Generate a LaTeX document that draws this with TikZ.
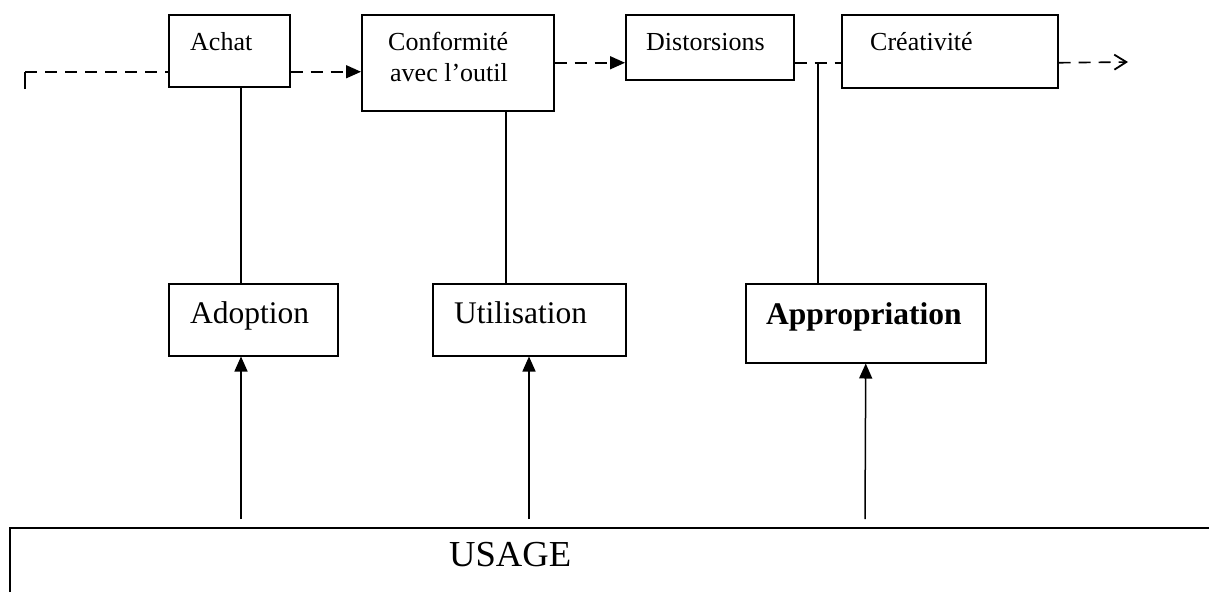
\documentclass[tikz,border=0pt]{standalone}
\usepackage{fontspec}
\setmainfont{Liberation Serif}
\usetikzlibrary{arrows.meta,calc}
\tikzset{
  box/.style={draw, line width=1.5pt, inner sep=0pt, anchor=north west},
  small/.style={anchor=base west, inner sep=0pt, font=\fontsize{26}{30}\selectfont},
  mid/.style={anchor=base west, inner sep=0pt, font=\fontsize{31.5}{36}\selectfont},
  big/.style={anchor=base west, inner sep=0pt, font=\fontsize{36.6}{42}\selectfont},
  flow/.style={line width=1.6pt, dash pattern=on 12pt off 8pt},
  solidtip/.style={-{Triangle[length=15pt,width=13pt]}},
  link/.style={line width=1.5pt},
}
\begin{document}
\begin{tikzpicture}[x=1pt,y=-1pt]
\useasboundingbox (0,0) rectangle (1209,592);
% top row boxes
\node[box, minimum width=121pt, minimum height=72pt] (achat) at (168,14) {};
\node[box, minimum width=192pt, minimum height=96pt] (conf) at (361,14) {};
\node[box, minimum width=168pt, minimum height=65pt] (dist) at (625,14) {};
\node[box, minimum width=216pt, minimum height=73pt] (crea) at (841,14) {};
\node[small] (tachat) at (190,50) {Achat};
\node[small] (tconf1) at (388,50) {Conformité};
\node[small] (tconf2) at (390,81) {avec l’outil};
\node[small] (tdist) at (646,50) {Distorsions};
\node[small] (tcrea) at (870,50) {Créativité};
% middle row boxes
\node[box, minimum width=169pt, minimum height=72pt] (adopt) at (168,283) {};
\node[box, minimum width=193pt, minimum height=72pt] (util) at (432,283) {};
\node[box, minimum width=240pt, minimum height=79pt] (approp) at (745,283) {};
\node[mid] (tadopt) at (190,323) {Adoption};
\node[mid] (tutil) at (454,323) {Utilisation};
\node[mid, font=\fontsize{31.5}{36}\selectfont\bfseries] (tapprop) at (766,324) {Appropriation};
% usage box (open)
\coordinate (usw) at (10,592);
\coordinate (usnw) at (10,528);
\coordinate (une) at (1209,528);
\draw[line width=2pt] (usw) -- (usnw) -- (une);
\node[big] (tusage) at (449,566) {USAGE};
% arrow start points
\coordinate (uA) at (241,519);
\coordinate (uU) at (529,519);
\coordinate (uP) at (865,519);
\coordinate (start) at (25,89);
\coordinate (fin) at (1128,62);
\coordinate (aw) at ([yshift=-21pt]achat.west);
\coordinate (ae) at ([yshift=-21pt]achat.east);
% dashed flow
\draw[link, line width=1.8pt] (start) -- (start |- aw) coordinate (corner);
\draw[flow] (corner) -- (aw);
\draw[flow, solidtip] (ae) -- (ae -| conf.west);
\draw[flow, solidtip] (conf.east) -- (conf.east -| dist.west);
\draw[flow] (conf.east -| dist.east) -- (conf.east -| crea.west);
\draw[flow, -{Straight Barb[length=12pt,width=15pt,line width=1.8pt]}] (conf.east -| crea.east) -- (fin);
% vertical links
\draw[link] (achat.south -| uA) -- (adopt.north -| uA);
\draw[link] ([xshift=48pt]conf.south) coordinate (c1) -- (c1 |- util.north);
\draw[link] ([xshift=-48pt]approp.north) coordinate (c2) -- (c2 |- conf.east);
% up arrows
\draw[link, solidtip] (uA) -- (uA |- adopt.south);
\draw[link, solidtip] (uU) -- (uU |- util.south);
\draw[link, solidtip] (uP) -- (approp.south);
\end{tikzpicture}
\end{document}
